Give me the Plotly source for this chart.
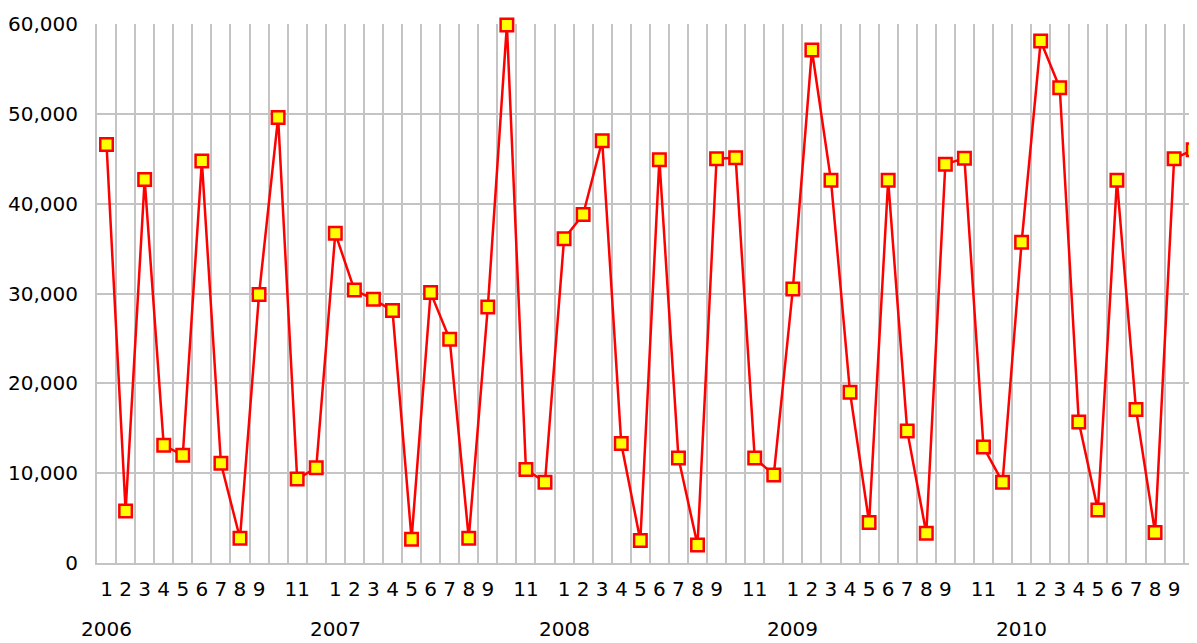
import plotly.graph_objects as go

years = ["2006", "2007", "2008", "2009", "2010"]
months_per_year = [12, 12, 12, 12, 10]
month_labels = ["1", "2", "3", "4", "5", "6", "7", "8", "9", "", "11", ""]

values_2006 = [46600, 5800, 42700, 13100, 12000, 44750, 11100, 2750, 29900, 49600, 9350, 10600]
values_2007 = [36700, 30400, 29350, 28100, 2650, 30100, 24900, 2750, 28500, 59900, 10400, 9000]
values_2008 = [36100, 38800, 47000, 13300, 2500, 44900, 11700, 2000, 45000, 45100, 11700, 9800]
values_2009 = [30500, 57100, 42600, 19000, 4500, 42600, 14700, 3300, 44400, 45050, 12900, 9000]
values_2010 = [35700, 58100, 52900, 15700, 5900, 42600, 17100, 3400, 45000, 46000]

values = values_2006 + values_2007 + values_2008 + values_2009 + values_2010
x = list(range(len(values)))

tick_vals, tick_text = [], []
year_pos = []
i = 0
for y, n in zip(years, months_per_year):
    year_pos.append(i)
    for m in range(n):
        if month_labels[m]:
            tick_vals.append(i)
            tick_text.append(month_labels[m])
        i += 1

font = dict(family="DejaVu Sans", size=20, color="black")
grid = "#c4c4c4"

fig = go.Figure()
fig.add_trace(go.Scatter(
    x=x, y=values, mode="lines+markers",
    line=dict(color="#ff0000", width=2.5),
    marker=dict(symbol="square", size=12.5, color="#ffff00",
                line=dict(color="#ff0000", width=2.5)),
    cliponaxis=False, showlegend=False,
))
# invisible trace on second x-axis to carry month tick labels
fig.add_trace(go.Scatter(x=x, y=values, xaxis="x2", mode="markers",
                         marker=dict(opacity=0), showlegend=False, hoverinfo="skip"))

boundaries = [k - 0.5 for k in range(len(values) + 1)]
xr = [-0.5, 57.2]
fig.update_layout(
    width=1189, height=635,
    margin=dict(l=89, r=0, t=16, b=80),
    plot_bgcolor="white", paper_bgcolor="white",
    font=font,
    xaxis=dict(range=xr, tickvals=boundaries, showticklabels=False,
               showgrid=True, gridcolor=grid, gridwidth=2,
               showline=True, linecolor=grid, linewidth=2, zeroline=False,
               ticks=""),
    xaxis2=dict(range=xr, overlaying="x", side="bottom", tickvals=tick_vals,
                ticktext=tick_text, showgrid=False, zeroline=False,
                showline=False, ticks="", ticklabelstandoff=12,
                tickfont=font, anchor="y"),
    yaxis=dict(range=[0, 60000], dtick=10000, tickformat=",",
               showgrid=True, gridcolor=grid, gridwidth=2,
               showline=True, linecolor=grid, linewidth=2, zeroline=False,
               ticks="", ticklabelstandoff=13, tickfont=font),
)
for yv, pos in zip(years, year_pos):
    fig.add_annotation(x=pos, xref="x", y=0, yref="paper", yshift=-66,
                       text=yv, showarrow=False, font=font, xanchor="center",
                       yanchor="middle")

fig.write_html("out.html")
